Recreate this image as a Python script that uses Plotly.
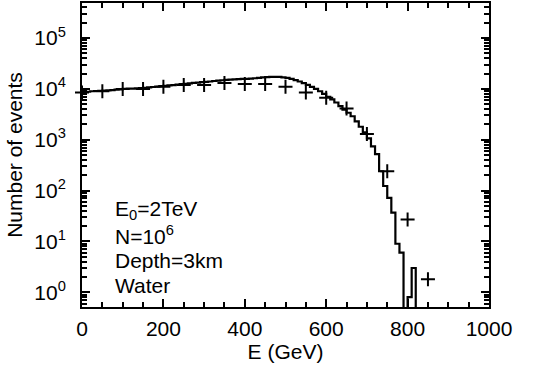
import plotly.graph_objects as go

# Histogram (simulation): 10 GeV bins starting at 0 GeV, counts per bin
bin_width = 10
counts = [8900, 8800, 9000, 9100, 9200, 9300, 9400, 9500, 9700, 9800,
          10000, 10100, 10100, 10300, 10400, 10500, 10700, 10900, 11100, 11300,
          11500, 11700, 11900, 12200, 12400, 12600, 12800, 13100, 13300, 13600,
          13800, 14000, 14300, 14500, 14800, 15000, 15200, 15400, 15600, 15700,
          15800, 16000, 16200, 16500, 16800, 17000, 17200, 17300, 17200, 16900,
          16500, 15800, 14900, 14000, 13000, 12000, 11000, 10000, 9000, 8000,
          7000, 6200, 5400, 4600, 3900, 3400, 2900, 2300, 1800, 1400,
          1060, 740, 520, 240, 123, 72, 37, 9, 6, 0,
          0.8, 3]

# Data points (crosses)
pts_E = [0, 50, 100, 150, 200, 250, 300, 350, 400, 450, 500, 550, 600, 650, 700,
         750, 800, 850]
pts_N = [8500, 9000, 10000, 10000, 11000, 12000, 12000, 13000, 12500, 12500, 11000,
         8500, 6700, 4100, 1300, 240, 27, 1.8]

y_tickvals = [1, 10, 100, 1000, 10000, 100000]
y_ticktext = ["10<sup>0</sup>", "10<sup>1</sup>", "10<sup>2</sup>", "10<sup>3</sup>",
              "10<sup>4</sup>", "10<sup>5</sup>"]
x_tickvals = [0, 200, 400, 600, 800, 1000]

floor = 1e-3
hx = [i * bin_width for i in range(len(counts) + 1)]
hy = [max(c, floor) for c in counts] + [floor]

fig = go.Figure()
fig.add_trace(go.Scatter(x=hx, y=hy, mode="lines",
                         line=dict(color="black", width=2.2, shape="hv"),
                         showlegend=False))
fig.add_trace(go.Scatter(x=pts_E, y=pts_N, mode="markers",
                         marker=dict(symbol="cross-thin", size=10,
                                     line=dict(color="black", width=2)),
                         showlegend=False, cliponaxis=False))

font = dict(family="Liberation Sans, Arial, sans-serif", size=21, color="black")

labels = ["E<sub>0</sub>=2TeV", "N=10<sup>6</sup>", "Depth=3km", "Water"]
ys = [209, 235, 260, 285]
for t, yp in zip(labels, ys):
    fig.add_annotation(text=t, xref="paper", yref="paper", x=(113 - 82) / 407,
                       y=(307 - yp) / 306, xanchor="left", yanchor="middle",
                       showarrow=False, font=font)

minor_y = [m * 10 ** d for d in range(-1, 6) for m in range(2, 10)]
minor_x = [v for v in range(50, 1000, 50) if v % 200 != 0]

fig.update_layout(
    width=533, height=374,
    margin=dict(l=82, r=44, t=1, b=67),
    paper_bgcolor="white", plot_bgcolor="white",
    font=font,
    xaxis=dict(range=[0, 1000], tickvals=x_tickvals,
               ticks="inside", ticklen=8, tickwidth=1.5, tickcolor="black",
               minor=dict(tickvals=minor_x, ticks="inside", ticklen=5, tickwidth=1.5,
                          tickcolor="black"),
               showline=True, linewidth=2, linecolor="black", mirror="allticks",
               showgrid=False, zeroline=False,
               title=dict(text="E (GeV)", font=font, standoff=2),
               tickfont=font, ticklabelstandoff=2),
    yaxis=dict(type="log", range=[-0.29, 5.69],
               tickvals=y_tickvals, ticktext=y_ticktext,
               ticks="inside", ticklen=8, tickwidth=1.5, tickcolor="black",
               minor=dict(tickvals=minor_y, ticks="inside", ticklen=5, tickwidth=1.5,
                          tickcolor="black"),
               showline=True, linewidth=2, linecolor="black", mirror="allticks",
               showgrid=False, zeroline=False,
               title=dict(text="Number of events", font=font, standoff=6),
               tickfont=font, ticklabelstandoff=10),
)

fig.write_html("out.html")
